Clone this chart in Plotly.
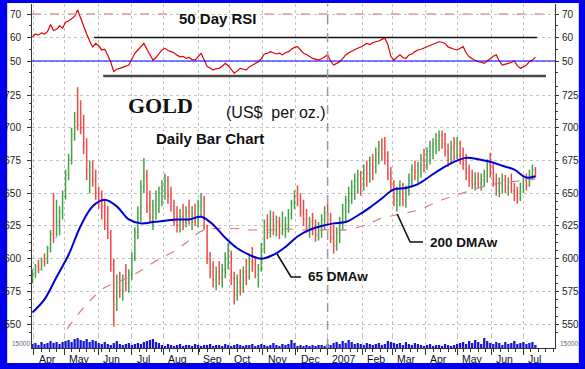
import numpy as np
import pandas as pd
import plotly.graph_objects as go

# ---------------- data (one bar per two trading days) ----------------
high = [592,596,599,601,604,610,622,650,645,640, 652,668,680,700,712,731,721,710,692,675,
        675,668,655,652,645,640,622,600,588,590, 588,596,592,605,624,640,660,677,668,652,
        645,652,655,660,665,663,655,645,640,638, 642,640,645,640,642,645,650,648,626,605,
        598,594,598,596,605,612,606,590,588,592, 594,600,604,609,602,596,612,630,634,637,
        636,633,632,636,632,638,645,652,656,650, 645,638,632,635,630,628,634,640,642,635,
        626,624,632,642,648,655,660,665,668,667, 672,675,678,680,685,690,692,693,682,670,
        660,655,660,658,656,665,672,675,674,680, 684,685,690,692,696,698,698,696,688,690,
        693,693,690,685,680,672,668,666,666,665, 668,676,681,674,665,662,665,664,662,665,
        658,655,658,664,665,668,672,670]
low = [581,585,589,591,594,596,605,612,617,618, 630,645,660,672,690,698,695,680,660,650,
       655,645,638,630,622,615,590,548,560,570, 568,575,574,584,598,615,628,650,635,628,
       622,630,635,640,645,642,636,625,620,620, 622,624,626,622,625,624,632,622,596,585,
       578,576,580,578,585,592,580,565,568,572, 574,580,584,590,585,578,590,604,615,616,
       618,617,615,618,616,620,630,638,640,632, 625,620,616,618,613,614,616,622,625,612,
       604,606,612,622,628,635,642,645,650,648, 652,655,658,660,665,672,675,672,660,652,
       640,636,640,640,639,648,655,660,658,662, 666,668,672,676,680,682,684,678,670,672,
       675,676,672,668,660,655,653,652,654,652, 655,658,662,655,648,647,650,650,648,650,
       644,642,644,650,652,655,660,662]
close = [589,594,592,598,597,608,619,616,628,636, 648,664,676,695,705,702,700,686,668,670,
         660,650,645,640,628,620,596,565,582,576, 584,581,588,600,620,635,655,662,640,632,
         640,645,650,655,660,648,640,630,626,632, 628,636,630,635,628,640,645,625,600,590,
         584,590,585,592,600,604,585,572,582,578, 590,586,598,596,588,592,608,625,620,630,
         622,628,620,622,626,634,642,648,645,636, 630,624,628,622,618,625,630,635,630,616,
         610,620,628,638,645,650,655,660,664,655, 668,665,672,670,680,686,684,680,665,658,
         645,650,654,645,652,660,668,666,670,676, 672,682,686,688,690,694,688,682,676,685,
         678,688,676,672,665,660,657,662,658,660, 663,672,670,658,652,656,660,654,658,652,
         648,646,655,660,656,664,668,666]
open_ = [584,589,594,592,598,597,608,619,616,628, 636,648,664,676,695,705,702,700,686,668,
         670,660,650,645,640,628,620,596,565,582, 576,584,581,588,600,620,635,655,662,640,
         632,640,645,650,655,660,648,640,630,626, 632,628,636,630,635,628,640,645,625,600,
         590,584,590,585,592,600,604,585,572,582, 578,590,586,598,596,588,592,608,625,620,
         630,622,628,620,622,626,634,642,648,645, 636,630,624,628,622,618,625,630,635,630,
         616,610,620,628,638,645,650,655,660,664, 655,668,665,672,670,680,686,684,680,665,
         658,645,650,654,645,652,660,668,666,670, 676,672,682,686,688,690,694,688,682,676,
         685,678,688,676,672,665,660,657,662,658, 660,663,672,670,658,652,656,660,654,658,
         652,648,646,655,660,656,664,668]
volume = [4,5,3,6,4,5,7,5,6,4,6,
          7,8,6,9,10,8,7,9,6,8,7,
          5,4,6,4,3,5,7,4,3,4,5,3,4,5,4,6,
          7,8,9,6,5,
          3,2,4,3,2,3,4,2,3,3, 2,4,3,2,3,3,4,2,3,3, 2,4,3,2,3,4,3,2,3,3, 4,2,3,4,3,2,3,5,3,2, 4,3,4,
          8,5,
          2,3,2,3,2,3,2,3,3,2,4,
          3,5,6,4,7,5,8,6,4,5,
          4,3,5,4,3,4,5,3,4,7,
          6,5,4,5,3,6,4,3,5,4,
          3,2,3,4,2,3,3,2,4,3,2,3,4,
          5,6,4,7,5,8,6,4,10,7,5,
          4,6,5,3,6,4,5,7,4,5,6,4,5,6,3]
rsi = [60.3,61.5,61.0,62.0,61.5,62.5,65.5,63.0,63.5,65.0, 64.0,66.5,67.0,68.0,69.0,71.7,68.0,64.5,61.5,58.5,
       56.0,57.5,56.5,54.7,55.0,52.5,49.5,45.5,46.5,46.9, 47.2,47.8,48.3,50.5,53.3,54.7,56.1,57.5,55.0,52.6,
       50.4,51.5,53.3,54.7,55.4,54.5,54.0,53.5,52.5,51.8, 52.0,51.1,51.5,50.6,50.4,52.0,53.3,50.5,47.6,47.0,
       46.2,46.8,46.9,47.8,49.0,48.0,46.5,44.8,45.8,46.9, 46.5,46.2,47.5,48.3,48.8,49.7,51.0,53.0,53.3,54.0,
       53.5,53.0,53.3,52.6,53.5,54.0,55.0,55.8,56.1,54.5, 53.3,52.8,52.0,51.1,50.8,50.4,51.0,52.0,52.6,50.0,
       48.3,49.0,49.7,51.0,52.6,53.5,54.2,55.0,55.4,56.0, 56.8,57.5,57.0,57.8,58.2,58.5,59.2,59.7,57.0,52.0,
       50.4,51.5,52.6,51.5,51.1,52.6,53.0,54.0,54.7,55.0, 55.5,56.1,56.5,57.0,57.8,58.2,58.0,57.5,56.0,55.4,
       55.0,54.7,55.5,56.1,53.5,51.8,51.0,50.2,49.7,49.5, 49.0,50.0,51.1,52.0,52.6,50.0,48.3,48.5,49.0,49.5,
       50.0,48.0,46.9,47.5,48.3,49.8,50.4,51.6]
# moving averages sampled every 4th bar (+ last bar)
ma65 = [559,569,586,603,625,640,645,640,630,627, 628,629,630,630,632,626,616,608,603,600,
        603,609,617,622,625,627,628,633,639,646, 653,654,657,663,669,674,677,676,674,671,
        668,662,663]
ma200 = [None,None,535,548,560,570,578,582,586,591, 597,602,607,614,621,623,623,623,622,622,
         622,623,622,622,622,622,622,624,627,631, 633,635,637,641,645,648,651,654,656,658,
         659,660,661]
month_labels = ["Apr","May","Jun","Jul","Aug","Sep","Oct","Nov","Dec","2007",
                "Feb","Mar","Apr","May","Jun","Jul"]

# ---------------- scales ----------------
n = len(close)
days = pd.bdate_range("2006-03-31", periods=2 * n)
bar_x = np.arange(0, 2 * n, 2)
ma_x = list(bar_x[::4]) + [bar_x[-1]]
pos = pd.Series(np.arange(len(days)), index=days)
firsts = pos.groupby([days.year, days.month]).first()
month_ticks = [int(v) for (yy, mm), v in firsts.items() if not (yy == 2006 and mm < 4)][:len(month_labels)]
jan07 = month_ticks[month_labels.index("2007")]

FONT = "Liberation Sans, Arial, sans-serif"
NARROW = "Liberation Sans Narrow, Arial Narrow, Liberation Sans, Arial, sans-serif"
W, H = 585, 369
ML, MR, MT, MB = 28, 30, 4, 21
PW, PH = W - ML - MR, H - MT - MB

def px_x(p):
    return (p - ML) / PW

def px_y(p):
    return (H - MB - p) / PH

d_vol = px_y(336)
d_rsi = px_y(81)

fig = go.Figure()
fig.add_trace(go.Bar(x=bar_x, y=volume, xaxis="x", yaxis="y", width=1.5,
                     marker=dict(color="#1414d2", line=dict(width=0)),
                     showlegend=False, hoverinfo="skip"))
fig.add_trace(go.Ohlc(x=bar_x, open=open_, high=high, low=low, close=close,
                      xaxis="x2", yaxis="y2", tickwidth=0.3,
                      increasing=dict(line=dict(color="#48a048", width=1.5)),
                      decreasing=dict(line=dict(color="#f04a4a", width=1.5)),
                      showlegend=False, hoverinfo="skip"))
fig.add_trace(go.Scatter(x=ma_x, y=ma200, mode="lines", xaxis="x2", yaxis="y2",
                         line=dict(color="#e07a7a", width=1.2, dash="dash", shape="spline"),
                         showlegend=False, hoverinfo="skip"))
fig.add_trace(go.Scatter(x=ma_x, y=ma65, mode="lines", xaxis="x2", yaxis="y2",
                         line=dict(color="#0000d0", width=2, shape="spline"),
                         showlegend=False, hoverinfo="skip"))
fig.add_trace(go.Scatter(x=bar_x, y=rsi, mode="lines", xaxis="x3", yaxis="y3",
                         line=dict(color="#e00000", width=1.2),
                         showlegend=False, hoverinfo="skip"))
# carriers for the right-hand axes
fig.add_trace(go.Scatter(x=ma_x, y=ma65, mode="lines", xaxis="x2", yaxis="y4", opacity=0,
                         line=dict(width=0), showlegend=False, hoverinfo="skip"))
fig.add_trace(go.Scatter(x=bar_x, y=rsi, mode="lines", xaxis="x3", yaxis="y5", opacity=0,
                         line=dict(width=0), showlegend=False, hoverinfo="skip"))

grid = dict(showgrid=True, gridcolor="#c4c4c4", griddash="dot", gridwidth=1, zeroline=False)
xr = [-0.3, 347]
xcommon = dict(range=xr, tickmode="array", tickvals=month_ticks, showticklabels=False,
               rangeslider=dict(visible=False), **grid)
tickfont = dict(family=NARROW, size=10, color="#222")
price_range = [541, 735.7]
rsi_range = [41.5, 74.26]

fig.update_layout(
    width=W, height=H, margin=dict(l=ML, r=MR, t=MT, b=MB),
    paper_bgcolor="#0000ee", plot_bgcolor="white", showlegend=False,
    font=dict(family=FONT, color="#111"),
    xaxis=dict(xcommon, domain=[0, 1], anchor="y", ticks="outside", ticklen=6,
               tickcolor="#333", showline=True, linecolor="#333", linewidth=1,
               minor=dict(tick0=1, dtick=5, ticklen=3, ticks="outside", tickcolor="#333", showgrid=False)),
    xaxis2=dict(xcommon, anchor="y2", matches="x", ticks=""),
    xaxis3=dict(xcommon, anchor="y3", matches="x", ticks=""),
    yaxis=dict(domain=[0, d_vol], range=[0, 12], anchor="x", showticklabels=False, ticks="",
               showgrid=False, zeroline=False, showline=True, linecolor="#333", mirror=True),
    yaxis2=dict(domain=[d_vol, d_rsi], range=price_range, anchor="x2", tick0=0, dtick=25,
                ticks="outside", ticklen=4, tickcolor="#333", tickfont=tickfont,
                ticklabelstandoff=4, showline=True, linecolor="#333", mirror=True,
                minor=dict(dtick=6.25, ticklen=2, ticks="outside", tickcolor="#333", showgrid=False),
                **grid),
    yaxis3=dict(domain=[d_rsi, 1], range=rsi_range, anchor="x3", tick0=0, dtick=10,
                ticks="outside", ticklen=4, tickcolor="#333", tickfont=tickfont,
                ticklabelstandoff=4, showline=True, linecolor="#333", mirror=True,
                minor=dict(dtick=5, ticklen=2, ticks="outside", tickcolor="#333", showgrid=False),
                **grid),
    yaxis4=dict(overlaying="y2", side="right", anchor="x2", range=price_range, tick0=0, dtick=25,
                ticks="outside", ticklen=3, tickcolor="#333", tickfont=tickfont,
                ticklabelstandoff=1, showgrid=False, zeroline=False, showline=False,
                minor=dict(dtick=6.25, ticklen=2, ticks="outside", tickcolor="#333")),
    yaxis5=dict(overlaying="y3", side="right", anchor="x3", range=rsi_range, tick0=0, dtick=10,
                ticks="outside", ticklen=3, tickcolor="#333", tickfont=tickfont,
                ticklabelstandoff=1, showgrid=False, zeroline=False, showline=False,
                minor=dict(dtick=5, ticklen=2, ticks="outside", tickcolor="#333")),
)

shapes = [
    # white card inside the blue frame
    dict(type="rect", xref="paper", yref="paper", x0=px_x(3), x1=px_x(579), y0=px_y(363), y1=px_y(3),
         fillcolor="white", line=dict(width=0), layer="below"),
    # RSI guide lines
    dict(type="line", xref="x3", yref="y3", x0=xr[0], x1=90.5, y0=70, y1=70,
         line=dict(color="#e49a9a", width=1.5, dash="dash")),
    dict(type="line", xref="x3", yref="y3", x0=154, x1=341, y0=70, y1=70,
         line=dict(color="#e49a9a", width=1.5, dash="dash")),
    dict(type="line", xref="x3", yref="y3", x0=41, x1=335, y0=60, y1=60,
         line=dict(color="#111", width=1.5)),
    dict(type="line", xref="x3", yref="y3", x0=47, x1=341, y0=43.6, y1=43.6,
         line=dict(color="#4a4a4a", width=2.5)),
    dict(type="line", xref="x3", yref="y3", x0=xr[0], x1=xr[1], y0=50, y1=50,
         line=dict(color="#0000ff", width=1.2)),
    # start of 2007
    dict(type="line", xref="x", yref="paper", x0=jan07, x1=jan07, y0=0, y1=1,
         line=dict(color="#9a9a9a", width=1.5, dash="dash")),
    # leader lines
    dict(type="path", xref="paper", yref="paper",
         path=f"M {px_x(275)},{px_y(254)} L {px_x(289)},{px_y(277)} L {px_x(299)},{px_y(277)}",
         line=dict(color="#111", width=1.6)),
    dict(type="path", xref="paper", yref="paper",
         path=f"M {px_x(396)},{px_y(214)} L {px_x(409)},{px_y(242)} L {px_x(422)},{px_y(242)}",
         line=dict(color="#111", width=1.6)),
]
fig.update_layout(shapes=shapes)

ann = [
    dict(text="<b>50 Day RSI</b>", x=px_x(215), y=px_y(18.5), font=dict(size=15, color="#111")),
    dict(text="<b>GOLD</b>", x=px_x(157.5), y=px_y(105.5),
         font=dict(family="Liberation Serif, Times New Roman, serif", size=22, color="#111")),
    dict(text="(US$\u00a0\u00a0per oz.)", x=px_x(274), y=px_y(112), font=dict(size=16, color="#111")),
    dict(text="<b>Daily Bar Chart</b>", x=px_x(207.5), y=px_y(138), font=dict(size=15, color="#111")),
    dict(text="<b>65 DMAw</b>", x=px_x(304), y=px_y(276), xanchor="left", font=dict(size=13.5, color="#111")),
    dict(text="<b>200 DMAw</b>", x=px_x(427), y=px_y(242), xanchor="left", font=dict(size=13.5, color="#111")),
    dict(text="15000", x=px_x(6), y=px_y(343), xanchor="left", font=dict(size=6.5, color="#667")),
    dict(text="15000", x=px_x(558), y=px_y(343), xanchor="left", font=dict(size=6.5, color="#667")),
]
for t, lab in zip(month_ticks, month_labels):
    ann.append(dict(text=lab, x=t + 1.8, xref="x", y=px_y(359), yref="paper", xanchor="left",
                    font=dict(family=NARROW, size=10.5, color="#111")))
for a in ann:
    a.setdefault("xref", "paper")
    a.setdefault("yref", "paper")
    a.setdefault("xanchor", "center")
    a.setdefault("yanchor", "middle")
    a["showarrow"] = False
    a["font"].setdefault("family", FONT)
fig.update_layout(annotations=ann)

fig.write_html("out.html", config={"displayModeBar": False},
               post_script="document.body.style.margin='0';document.body.style.padding='0';")
